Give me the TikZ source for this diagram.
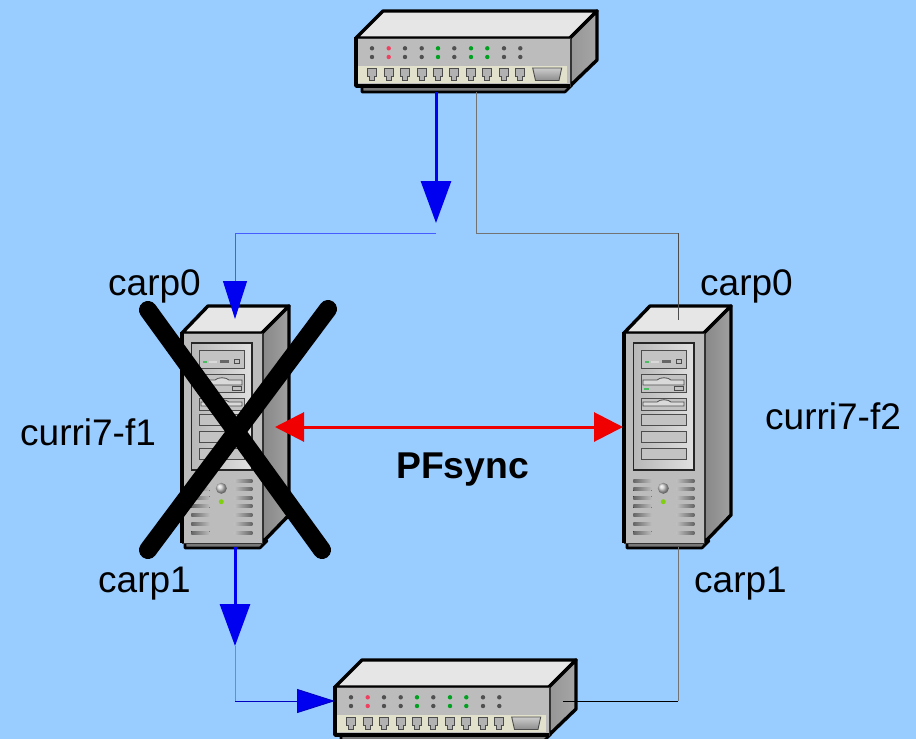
\documentclass[tikz,border=0pt]{standalone}
\usepackage{fontspec}
\setmainfont{Liberation Sans}
\usetikzlibrary{arrows.meta}
\definecolor{bgblue}{HTML}{99CCFF}
\definecolor{facegrey}{HTML}{BCBCBC}
\definecolor{topgrey}{HTML}{E6E6E6}
\definecolor{sidegrey}{HTML}{969696}
\definecolor{stripcol}{HTML}{E2E2CC}
\definecolor{ledgrey}{HTML}{505050}
\definecolor{ledred}{HTML}{F04060}
\definecolor{ledgreen}{HTML}{00A020}
\definecolor{arrowblue}{HTML}{0000F0}
\definecolor{arrowred}{HTML}{F00000}
\tikzset{
  x=1pt,y=-1pt,
  outline/.style={draw=black,line width=3.4pt,line join=round},
  label/.style={font=\fontsize{37}{40}\selectfont,anchor=base west,inner sep=0pt,text=black},
  boldlabel/.style={font=\fontsize{37.3}{40}\selectfont\bfseries,anchor=base west,inner sep=0pt,text=black},
  wire/.style={line width=0.9pt},
  bigblue/.style={draw=arrowblue,line width=3pt,-{Triangle[length=42pt,width=30pt,fill=arrowblue]}},
  cross/.style={draw=black,line width=18pt,line cap=round},
}
\newcommand{\switchbox}[1]{%
\begin{scope}[shift={(#1)}]
  \path[fill=sidegrey!80!black,draw=black,line width=2.6pt,line join=round] (6,47) -- (6,54) -- (209,54) -- (216,47) -- cycle;
  \path[fill=topgrey,outline] (0,0) -- (27,-27) -- (241,-27) -- (214,0) -- cycle;
  \path[left color=sidegrey,right color=sidegrey!85!white,outline] (214,0) -- (241,-27) -- (241,22) -- (214,48) -- cycle;
  \path[fill=facegrey,draw=black!80,line width=1pt] (0,0) rectangle (214,48);
  \draw[black,line width=3.4pt,line join=round] (0,-1) -- (0,48) -- (214,48);
  \fill[stripcol] (2.3,27.7) rectangle (210.7,45.3);
  \foreach \px/\ca in {16/ledgrey,32.7/ledred,49/ledgrey,65.7/ledgrey,82/ledgreen,98.3/ledgrey,115/ledgreen,131.3/ledgreen,148/ledgrey,164.3/ledgrey}{
    \fill[\ca] (\px,10.3) circle (2.2pt);
    \fill[\ca] (\px,19) circle (2.2pt);
    \path[fill=black!30,draw=black!70,line width=0.9pt] (\px-4.5,30.3) -- (\px+4.5,30.3) -- (\px+4.5,38.5) -- (\px+2.5,38.5) -- (\px+2.5,42) -- (\px-2.5,42) -- (\px-2.5,38.5) -- (\px-4.5,38.5) -- cycle;
  }
  \path[top color=black!20,bottom color=black!45,draw=black!70,line width=0.9pt] (176.7,30) -- (205.7,30) -- (203,42.5) -- (179.5,42.5) -- cycle;
\end{scope}}
\newcommand{\serverbox}[1]{%
\begin{scope}[shift={(#1)}]
  \path[fill=sidegrey!80!black,draw=black,line width=2.6pt,line join=round] (3,208) -- (3,215) -- (78,215) -- (85,208) -- cycle;
  \path[fill=topgrey,outline] (0,0) -- (26,-27) -- (107,-27) -- (80,0) -- cycle;
  \path[left color=sidegrey!90!black,right color=sidegrey!90!white,outline] (80,0) -- (107,-27) -- (107,182) -- (80,210) -- cycle;
  \path[fill=facegrey,draw=black!80,line width=1pt] (0,0) rectangle (80,210);
  \draw[black,line width=3.4pt] (0,-1) -- (0,210);
  \path[left color=black!28,right color=black!12,draw=black!85,line width=1.1pt] (9.3,10) rectangle (70,137);
  \foreach \ya/\yb in {17/35.3,41.3/59.3,65.3/77,81.3/92.7,98/109.3,115.3/126.7}{
    \path[fill=facegrey!90!white,draw=black!70,line width=0.9pt] (17.3,\ya) rectangle (62.7,\yb);
  }
  \fill[ledgreen!70!white] (21,28) rectangle (25,29.5);
  \fill[white!85!black] (27,28) rectangle (35,29.5);
  \fill[black!60] (38,26.5) rectangle (47,30);
  \draw[black!70,line width=0.8pt] (52,26) rectangle (57,30);
  \path[fill=black!15,draw=black!70,line width=0.8pt] (19,47) -- (33,47) .. controls (36,44) and (44,44) .. (47,47) -- (60,47) -- (60,52) -- (19,52) -- cycle;
  \fill[ledgreen!70!white] (20,55) rectangle (25,56.5);
  \draw[black!70,line width=0.8pt] (50,53) rectangle (59,57);
  \path[fill=black!15,draw=black!70,line width=0.8pt] (19,69) -- (33,69) .. controls (36,66) and (44,66) .. (47,69) -- (60,69) -- (60,73) -- (19,73) -- cycle;
  \foreach \vy in {148,156.3,164.7,173.3,182,191,199.7}{
    \fill[left color=black!60,right color=facegrey] (9.3,\vy-1.4) rectangle (27.7,\vy+1.4);
    \fill[left color=facegrey,right color=black!60] (52.7,\vy-1.4) rectangle (70.3,\vy+1.4);
  }
  \shade[ball color=black!20] (39.3,155.3) circle (5.5pt);
  \fill[ledgreen!50!yellow] (39.3,168.7) circle (2.5pt);
\end{scope}}
\begin{document}
\begin{tikzpicture}
\clip (0,0) rectangle (916,739);
\fill[bgblue] (0,0) rectangle (916,739);
\coordinate (t1) at (436,92);
\coordinate (t2) at (436,223);
\coordinate (t3) at (436,233);
\coordinate (t4) at (235,233);
\coordinate (t5) at (235,319);
\coordinate (g1) at (476,92);
\coordinate (g2) at (476,233);
\coordinate (g3) at (678,233);
\coordinate (g4) at (678,320);
\coordinate (rl) at (275,427);
\coordinate (rr) at (623,427);
\coordinate (b1) at (235,547);
\coordinate (b2) at (235,646);
\coordinate (b3) at (235,701);
\coordinate (b4) at (335,701);
\coordinate (h1) at (563,701);
\coordinate (h2) at (678,701);
\coordinate (h3) at (678,547);
\coordinate (xa) at (148,310);
\coordinate (xb) at (322,550);
\coordinate (xc) at (328,309);
\coordinate (xd) at (148,550);
\switchbox{356,38}
\switchbox{335,687}
\serverbox{182,333}
\serverbox{624,333}
\draw[bigblue] (t1) -- (t2);
\draw[wire,draw=blue!55!bgblue] (t3) -- (t4);
\draw[wire,draw=blue!55!bgblue] (t4) -- (235,285);
\draw[wire,draw=arrowblue,-{Triangle[length=38pt,width=24pt,fill=arrowblue]}] (235,285) -- (t5);
\draw[wire,draw=black!55] (g1) -- (g2) -- (g3);
\draw[wire,draw=black!70] (g3) -- (g4);
\draw[cross] (xa) -- (xb);
\draw[cross] (xc) -- (xd);
\draw[line width=3pt,draw=arrowred,{Triangle[length=29pt,width=29pt,fill=arrowred]}-{Triangle[length=29pt,width=29pt,fill=arrowred]}] (rl) -- (rr);
\draw[bigblue] (b1) -- (b2);
\draw[wire,draw=blue!35!bgblue] (b2) -- (b3);
\draw[wire,draw=arrowblue!80!black,-{Triangle[length=38pt,width=24pt,fill=arrowblue]}] (b3) -- (b4);
\draw[wire,draw=black] (h1) -- (h2);
\draw[wire,draw=black!55] (h2) -- (h3);
\node[label] (lc0l) at (108,295) {carp0};
\node[label] (lc0r) at (700,295) {carp0};
\node[label] (lf1) at (20,445) {curri7-f1};
\node[label] (lf2) at (765,429) {curri7-f2};
\node[label] (lc1l) at (98,592) {carp1};
\node[label] (lc1r) at (694,592) {carp1};
\node[boldlabel] (lpf) at (396,478) {PFsync};
\end{tikzpicture}
\end{document}
